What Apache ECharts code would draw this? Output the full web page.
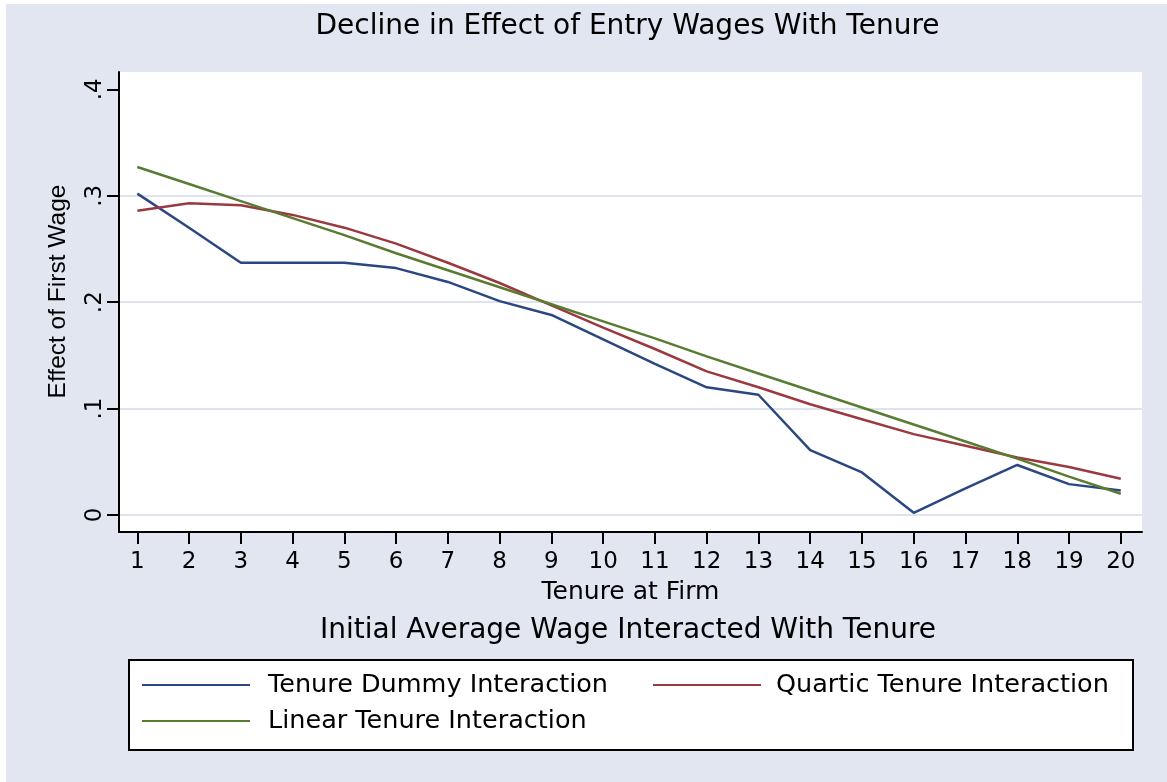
<!DOCTYPE html>
<html>
<head>
<meta charset="utf-8">
<script src="https://cdn.jsdelivr.net/npm/echarts@6/dist/echarts.min.js"></script>
<style>
html,body{margin:0;padding:0;background:#ffffff;}
#c{position:absolute;left:6px;top:4px;width:1161px;height:778px;}
</style>
</head>
<body>
<div id="c"></div>
<script>
// ---- data ----
const tenure = [1,2,3,4,5,6,7,8,9,10,11,12,13,14,15,16,17,18,19,20];
const dummyInteraction   = [0.302,0.270,0.237,0.237,0.237,0.232,0.219,0.201,0.188,0.165,0.142,0.120,0.113,0.061,0.040,0.002,0.025,0.047,0.029,0.023];
const quarticInteraction = [0.286,0.293,0.291,0.282,0.270,0.255,0.237,0.218,0.197,0.176,0.156,0.135,0.120,0.104,0.090,0.076,0.065,0.054,0.045,0.034];
const linearInteraction  = [0.327,0.311,0.295,0.279,0.263,0.246,0.230,0.214,0.198,0.182,0.166,0.149,0.133,0.117,0.101,0.085,0.069,0.053,0.036,0.020];
const seriesNames = ['Tenure Dummy Interaction','Quartic Tenure Interaction','Linear Tenure Interaction'];
const xTickValues = [1,2,3,4,5,6,7,8,9,10,11,12,13,14,15,16,17,18,19,20];
const yTickValues = [0,0.1,0.2,0.3,0.4];
const yTickLabels = ['0','.1','.2','.3','.4'];
const titleText = 'Decline in Effect of Entry Wages With Tenure';
const subtitleText = 'Initial Average Wage Interacted With Tenure';
const xTitle = 'Tenure at Firm';
const yTitle = 'Effect of First Wage';

// ---- style ----
const FONT = 'DejaVu Sans';
const BG = '#e2e6f1';
const GRID = '#dfe3ee';
const COLORS = ['#2a4781','#9a3a40','#5a7b32'];

const chart = echarts.init(document.getElementById('c'), null, {renderer:'canvas'});

function pairs(arr){ return tenure.map((t,i)=>[t, arr[i]]); }

const legendBase = {
  padding: 0, itemWidth: 108, itemHeight: 2, icon: 'rect', selectedMode: false,
  textStyle: {fontFamily: FONT, fontSize: 25.5, color: '#000'}
};

chart.setOption({
  animation: false,
  backgroundColor: BG,
  grid: {left: 113, top: 68, right: 25, bottom: 250, show: true, backgroundColor: '#ffffff', borderWidth: 0},
  xAxis: {
    type: 'value', min: 0.646, max: 20.41,
    axisLine: {onZero: false, lineStyle: {color: '#000', width: 2}},
    axisTick: {customValues: xTickValues, length: 12, lineStyle: {color: '#000', width: 2}},
    axisLabel: {customValues: xTickValues, margin: 19, fontSize: 23, fontFamily: FONT, color: '#000'},
    splitLine: {show: false},
    name: xTitle, nameLocation: 'middle', nameGap: 48,
    nameTextStyle: {fontFamily: FONT, fontSize: 25, color: '#000'}
  },
  yAxis: {
    type: 'value', min: -0.016, max: 0.4163,
    axisLine: {onZero: false, lineStyle: {color: '#000', width: 2}},
    axisTick: {customValues: yTickValues, length: 12, lineStyle: {color: '#000', width: 2}},
    axisLabel: {customValues: yTickValues, rotate: 90, margin: 12, fontSize: 23, fontFamily: FONT, color: '#000',
      formatter: v => { const i = yTickValues.findIndex(t => Math.abs(t - v) < 1e-9); return i >= 0 ? yTickLabels[i] : ''; }},
    splitLine: {show: true, lineStyle: {color: [GRID, GRID, GRID, GRID, 'rgba(0,0,0,0)'], width: 2}}
  },
  legend: [
    Object.assign({}, legendBase, {data: [seriesNames[0]], left: 136, top: 668, textStyle: Object.assign({}, legendBase.textStyle, {padding: [0,0,0,13]})}),
    Object.assign({}, legendBase, {data: [seriesNames[1]], left: 647, top: 668, textStyle: Object.assign({}, legendBase.textStyle, {padding: [0,0,0,10]})}),
    Object.assign({}, legendBase, {data: [seriesNames[2]], left: 136, top: 704, textStyle: Object.assign({}, legendBase.textStyle, {padding: [0,0,0,13]})})
  ],
  graphic: [
    {type: 'rect', z: 0, shape: {x: 123, y: 656, width: 1004, height: 90}, style: {fill: '#ffffff', stroke: '#000', lineWidth: 2}},
    {type: 'text', x: 621.5, y: 23, style: {text: titleText, fontFamily: FONT, fontSize: 28, fill: '#000', textAlign: 'center', textVerticalAlign: 'middle'}},
    {type: 'text', x: 622, y: 627, style: {text: subtitleText, fontFamily: FONT, fontSize: 28, fill: '#000', textAlign: 'center', textVerticalAlign: 'middle'}},
    {type: 'text', x: 52, y: 287.5, rotation: Math.PI / 2, style: {text: yTitle, fontFamily: 'Liberation Sans', fontSize: 24.5, fill: '#000', textAlign: 'center', textVerticalAlign: 'middle'}}
  ],
  series: [
    {name: seriesNames[0], type: 'line', symbol: 'none', data: pairs(dummyInteraction), lineStyle: {color: COLORS[0], width: 2.5}, itemStyle: {color: COLORS[0]}},
    {name: seriesNames[1], type: 'line', symbol: 'none', data: pairs(quarticInteraction), lineStyle: {color: COLORS[1], width: 2.5}, itemStyle: {color: COLORS[1]}},
    {name: seriesNames[2], type: 'line', symbol: 'none', data: pairs(linearInteraction), lineStyle: {color: COLORS[2], width: 2.5}, itemStyle: {color: COLORS[2]}}
  ]
});
</script>
</body>
</html>
